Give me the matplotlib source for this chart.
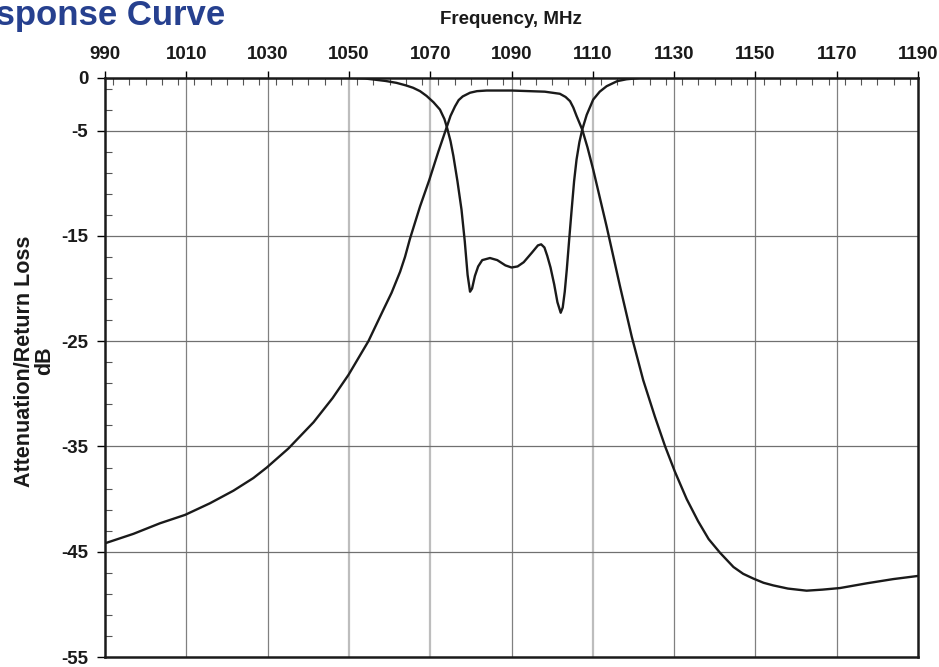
import matplotlib
matplotlib.use('Agg')
import matplotlib.pyplot as plt
from matplotlib.ticker import MultipleLocator

plt.rcParams['font.family'] = ['Liberation Sans', 'DejaVu Sans']
plt.rcParams['axes.unicode_minus'] = False

# return loss curve (MHz, dB)
rl_freq = [990, 1050, 1054, 1056, 1059, 1061.7, 1064, 1065.8, 1067.5, 1069.1,
           1070.8, 1072.4, 1073.5, 1074.2, 1075, 1075.7, 1076.7, 1077.7, 1078.5, 1079.2,
           1079.8, 1080.3, 1081, 1081.8, 1082.8, 1084.7, 1086.5, 1088.5, 1090, 1091.5,
           1093, 1095, 1096.5, 1097.3, 1098.1, 1098.8, 1099.6, 1100.5, 1101.3, 1102.1,
           1102.6, 1103.1, 1103.6, 1104.2, 1104.8, 1105.4, 1106, 1106.7, 1107.4, 1108.5,
           1110.1, 1111.7, 1113.4, 1116, 1118.3, 1121.6, 1190]
rl_db = [0, 0, -0.05, -0.14, -0.28, -0.46, -0.7, -0.93, -1.25, -1.7,
         -2.3, -3.0, -3.9, -4.8, -6.0, -7.4, -9.8, -12.5, -15.5, -18.7,
         -20.3, -20.0, -18.8, -17.9, -17.3, -17.1, -17.3, -17.8, -18.0, -17.9,
         -17.5, -16.6, -15.9, -15.8, -16.1, -16.9, -18.0, -19.6, -21.3, -22.3,
         -21.8, -20.3, -18.2, -15.3, -12.5, -9.8, -7.75, -6.1, -4.9, -3.5,
         -2.05, -1.3, -0.78, -0.3, -0.12, 0, 0]

# attenuation curve (MHz, dB)
att_freq = [990, 997, 1003.5, 1009.7, 1015.8, 1021.6, 1026.5, 1029.8, 1035.1, 1041.3,
            1046, 1049.9, 1054.8, 1058.5, 1060.5, 1062.6, 1063.8, 1065, 1067.5, 1069.8,
            1072, 1074, 1075, 1076.1, 1077, 1078, 1079.8, 1081.5, 1083.9, 1090,
            1098.2, 1101.9, 1103.3, 1104.4, 1105.2, 1106, 1107.4, 1108.7, 1110.1, 1113.4,
            1116.7, 1119.6, 1122.4, 1125.3, 1127.8, 1130.2, 1133.1, 1135.9, 1138.5, 1141.3,
            1144.6, 1147, 1149.5, 1152, 1154.4, 1158, 1162.6, 1166.5, 1170.8, 1177.4,
            1183.9, 1190]
att_db = [-44.2, -43.3, -42.3, -41.5, -40.4, -39.2, -38.0, -37.0, -35.2, -32.7,
          -30.4, -28.2, -25.0, -22.0, -20.4, -18.4, -17.0, -15.3, -12.2, -9.66,
          -7.0, -4.74, -3.6, -2.7, -2.1, -1.75, -1.4, -1.25, -1.19, -1.19,
          -1.3, -1.5, -1.8, -2.2, -2.8, -3.6, -4.9, -6.6, -8.7, -14.1,
          -19.8, -24.6, -28.7, -32.2, -35.0, -37.4, -40.0, -42.1, -43.8, -45.1,
          -46.45, -47.1, -47.55, -47.95, -48.2, -48.5, -48.7, -48.6, -48.45, -48.0,
          -47.6, -47.3]

x_ticks = [990, 1010, 1030, 1050, 1070, 1090, 1110, 1130, 1150, 1170, 1190]
y_ticks = [0, -5, -15, -25, -35, -45, -55]

W, H = 939, 667
fig = plt.figure(figsize=(W/100, H/100), dpi=100)
ax = fig.add_axes([105/W, 1-657/H, (918-105)/W, (657-78)/H])

ax.set_xlim(990, 1190)
ax.set_ylim(-55, 0)

# grid
light = [1050, 1070, 1110]
for xv in x_ticks[1:-1]:
    if xv in light:
        ax.axvline(xv, color='#bdbdbd', lw=1.6, zorder=1)
    else:
        ax.axvline(xv, color='#808080', lw=0.9, zorder=1)
for yv in y_ticks[1:-1]:
    ax.axhline(yv, color='#707070', lw=0.9, zorder=1)

ax.plot(att_freq, att_db, color='#1a1a1a', lw=1.7, zorder=3)
ax.plot(rl_freq, rl_db, color='#1a1a1a', lw=1.7, zorder=3)

ax.xaxis.tick_top()
ax.set_xticks(x_ticks)
ax.set_yticks(y_ticks)
ax.xaxis.set_minor_locator(MultipleLocator(4))
ax.set_yticks(list(range(-53, 0, 2)), minor=True)
ax.tick_params(axis='x', which='major', direction='out', length=5, width=1,
               labelsize=13.5, pad=6)
ax.tick_params(axis='y', which='major', direction='out', length=6, width=1,
               labelsize=13.5, pad=6)
ax.tick_params(which='minor', direction='in', length=5, width=0.8, color='#555555')
for lab in ax.get_xticklabels() + ax.get_yticklabels():
    lab.set_fontweight('bold')
    lab.set_color('#1a1a1a')

for s in ax.spines.values():
    s.set_linewidth(1.8)
    s.set_color('#1a1a1a')

fig.text(511/W, 1-20/H, 'Frequency, MHz', ha='center', va='center',
         fontsize=13.5, fontweight='bold', color='#1a1a1a')
fig.text(35/W, 1-361/H, 'Attenuation/Return Loss\ndB', ha='center', va='center',
         rotation=90, multialignment='center', fontsize=15.5, fontweight='bold',
         color='#1a1a1a', linespacing=0.95)
fig.text(225/W, 1-25/H, 'Response Curve', ha='right', va='baseline',
         fontsize=25, fontweight='bold', color='#26408f')

fig.savefig('out.png', dpi=100)
